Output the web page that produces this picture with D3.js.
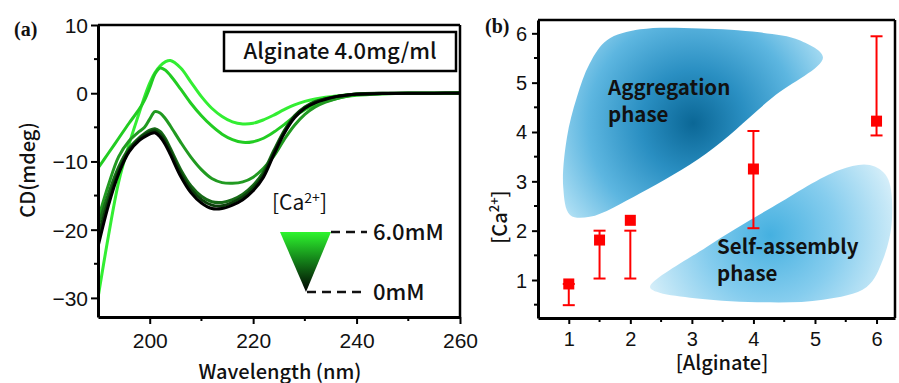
<!DOCTYPE html>
<html><head><meta charset="utf-8">
<script src="https://cdn.jsdelivr.net/npm/d3@7"></script>
<style>body{margin:0;background:#fff}svg{display:block}</style>
</head><body><svg id="c" width="899" height="383"></svg>
<script>
// ---------- Panel (a) data ----------
const wavelength = [190,192,194,196,198,199,200,201,202,203,204,206,208,210,212,214,216,218,220,222,224,226,228,230,232,234,236,238,240,245,250,255,260];
const cd_6mM  = [-30,-21,-13,-7.5,-2.8,-0.5,1.5,3.0,4.0,4.6,4.8,3.7,1.6,-0.5,-2.2,-3.4,-4.2,-4.5,-4.4,-3.9,-3.2,-2.4,-1.7,-1.2,-0.85,-0.6,-0.4,-0.25,-0.15,-0.05,0,0,0.1];
const cd_5mM  = [-11,-8.8,-6.6,-4.4,-2.3,-1.0,0.8,2.8,3.7,3.4,2.6,0.6,-1.5,-3.3,-4.8,-6.0,-6.8,-7.2,-7.1,-6.6,-5.7,-4.6,-3.4,-2.4,-1.7,-1.2,-0.8,-0.5,-0.3,-0.1,0,0,0];
const cd_4mM  = [-18.5,-13.5,-9.3,-7.0,-5.6,-5.0,-3.8,-2.7,-2.9,-3.7,-4.8,-7.2,-9.4,-11.2,-12.5,-13.1,-13.2,-13.0,-12.3,-11.0,-9.2,-6.8,-4.7,-3.1,-2.0,-1.3,-0.8,-0.45,-0.2,-0.05,0,0,0];
const cd_2mM  = [-19.5,-14.8,-10.8,-8.1,-6.5,-5.9,-5.4,-5.2,-5.6,-6.6,-8.1,-11.2,-13.6,-15.1,-15.9,-16.0,-15.6,-14.8,-13.5,-11.5,-8.4,-5.5,-3.3,-2.0,-1.2,-0.8,-0.5,-0.25,-0.1,0,0,0,0];
const cd_1mM  = [-21,-15.8,-11.4,-8.4,-6.7,-6.1,-5.7,-5.5,-6.0,-7.0,-8.5,-11.7,-14.1,-15.6,-16.4,-16.5,-16.0,-15.2,-13.9,-11.9,-8.7,-5.7,-3.4,-2.1,-1.3,-0.8,-0.5,-0.3,-0.1,0,0,0,0];
const cd_0mM  = [-22.5,-16.5,-11.8,-8.6,-6.9,-6.4,-6.0,-5.8,-6.4,-7.5,-9.0,-12.2,-14.6,-16.1,-16.9,-16.9,-16.4,-15.6,-14.3,-12.3,-9.0,-5.9,-3.6,-2.2,-1.4,-0.9,-0.5,-0.3,-0.15,-0.05,0,0,0.05];
const seriesA = [cd_6mM, cd_5mM, cd_4mM, cd_2mM, cd_1mM, cd_0mM];
const seriesColors = ["#33ee33","#22cc22","#219a21","#176a17","#0b3f0b","#000000"];
const xTicksA = [200,220,240,260];
const xMinorA = [210,230,250];
const yTicksA = [-30,-20,-10,0,10];
const yMinorA = [-25,-15,-5,5];

// ---------- Panel (b) data ----------
const alginate = [1,1.5,2,4,6];
const caMean   = [0.92,1.81,2.21,3.25,4.22];
const caLow    = [0.49,1.03,1.03,2.05,3.93];
const caHigh   = [0.92,2.0,2.0,4.02,5.94];
const xTicksB = [1,2,3,4,5,6];
const xMinorB = [1.5,2.5,3.5,4.5,5.5];
const yTicksB = [1,2,3,4,5,6];
const yMinorB = [0.5,1.5,2.5,3.5,4.5,5.5];
// phase region outlines in data units [alginate, Ca]
const aggregationRegion = [[1.62,5.86],[2.16,6.08],[3.13,6.10],[4.10,6.02],[4.75,5.86],[5.13,5.51],[4.31,4.70],[3.24,3.57],[2.16,2.76],[1.34,2.28],[1.02,2.32],[0.91,2.88],[0.97,3.89],[1.13,4.70],[1.34,5.39]];
const selfAssemblyRegion = [[2.32,0.86],[3.24,1.67],[4.31,2.48],[5.40,3.23],[5.89,3.33],[6.17,3.09],[6.25,2.21],[6.10,1.40],[5.84,0.86],[5.13,0.60],[4.06,0.55],[2.97,0.64],[2.43,0.76]];
const aggregationCenter = [3.02,4.18];
const selfAssemblyCenter = [4.27,1.91];

const svg = d3.select("#c");
svg.append("rect").attr("width",899).attr("height",383).attr("fill","#fff");
const defs = svg.append("defs");
const TXT = "#111";
const SANS = "'Liberation Sans', Arial, sans-serif";
const JP = "'Noto Sans CJK JP', 'Noto Sans', sans-serif";

function styleAxis(g, w){
  g.select(".domain").attr("stroke","#000").attr("stroke-width",w);
  g.selectAll(".tick line").attr("stroke","#000").attr("stroke-width",2);
}
function minorTicks(g, scale, vals, orient, pos){
  g.selectAll(null).data(vals).join("line")
    .attr("stroke","#000").attr("stroke-width",2)
    .each(function(d){
      const s=d3.select(this);
      if(orient==="bottom") s.attr("x1",scale(d)).attr("x2",scale(d)).attr("y1",pos).attr("y2",pos+4);
      else s.attr("y1",scale(d)).attr("y2",scale(d)).attr("x1",pos).attr("x2",pos-4);
    });
}

// ================= Panel (a) =================
const xA = d3.scaleLinear([190,260],[98,460]);
const yA = d3.scaleLinear([-32.8,10],[317,25]);
const gA = svg.append("g");
const clipA = defs.append("clipPath").attr("id","clipA");
clipA.append("rect").attr("x",98).attr("y",25).attr("width",362).attr("height",292);

const line = d3.line().x((d,i)=>xA(wavelength[i])).y(d=>yA(d)).curve(d3.curveCatmullRom.alpha(0.5));
gA.append("g").attr("clip-path","url(#clipA)").selectAll("path").data(seriesA).join("path")
  .attr("d",line).attr("fill","none").attr("stroke",(d,i)=>seriesColors[i])
  .attr("stroke-width",3).attr("stroke-linejoin","round");

// frame top/right
gA.append("line").attr("x1",xA(190)).attr("x2",xA(260)).attr("y1",yA(10)).attr("y2",yA(10)).attr("stroke","#000").attr("stroke-width",2.5);
gA.append("line").attr("x1",xA(260)).attr("x2",xA(260)).attr("y1",yA(10)).attr("y2",yA(-32.8)).attr("stroke","#000").attr("stroke-width",2.5);

const axA_b = gA.append("g").attr("transform","translate(0,317)")
  .call(d3.axisBottom(xA).tickValues(xTicksA).tickSize(7).tickSizeOuter(0).tickPadding(9));
styleAxis(axA_b,3);
axA_b.selectAll("text").attr("font-family",SANS).attr("font-size",21).attr("fill",TXT);
minorTicks(gA, xA, xMinorA, "bottom", 317);
const axA_l = gA.append("g").attr("transform","translate(98,0)")
  .call(d3.axisLeft(yA).tickValues(yTicksA).tickSize(7).tickSizeOuter(0).tickPadding(3));
styleAxis(axA_l,3);
axA_l.selectAll("text").attr("font-family",SANS).attr("font-size",21).attr("fill",TXT).attr("dy","0.35em");
minorTicks(gA, yA, yMinorA, "left", 98);

gA.append("text").attr("x",14).attr("y",36).attr("font-family","'Liberation Serif', serif").attr("font-weight","bold").attr("font-size",20).attr("fill",TXT).text("(a)");
gA.append("text").attr("transform","translate(35,170) rotate(-90)").attr("text-anchor","middle")
  .attr("font-family",JP).attr("font-weight",500).attr("font-size",20).attr("fill",TXT).text("CD(mdeg)");
gA.append("text").attr("x",280).attr("y",379).attr("text-anchor","middle")
  .attr("font-family",JP).attr("font-weight",500).attr("font-size",20).attr("fill",TXT).text("Wavelength (nm)");

// legend box
gA.append("rect").attr("x",224).attr("y",32).attr("width",232).attr("height",39).attr("fill","#fff").attr("stroke","#000").attr("stroke-width",2.5);
gA.append("text").attr("x",340).attr("y",59).attr("text-anchor","middle").attr("font-family",JP).attr("font-weight",500).attr("font-size",22).attr("fill",TXT).text("Alginate 4.0mg/ml");

// Ca legend
const lg = defs.append("linearGradient").attr("id","tri").attr("x1",0).attr("y1",0).attr("x2",0).attr("y2",1);
lg.append("stop").attr("offset",0).attr("stop-color","#2ef52e");
lg.append("stop").attr("offset",0.45).attr("stop-color","#15861a");
lg.append("stop").attr("offset",1).attr("stop-color","#000");
const caT = gA.append("text").attr("x",272).attr("y",210).attr("font-family",JP).attr("font-size",21).attr("fill",TXT);
caT.append("tspan").text("[Ca");
caT.append("tspan").attr("font-size",14).attr("dy",-7).text("2+");
caT.append("tspan").attr("dy",7).text("]");
gA.append("path").attr("d","M280,232 L331,232 L306,292 Z").attr("fill","url(#tri)");
gA.append("line").attr("x1",331).attr("x2",367).attr("y1",232).attr("y2",232).attr("stroke","#111").attr("stroke-width",2.5).attr("stroke-dasharray","9,6");
gA.append("line").attr("x1",307).attr("x2",367).attr("y1",292).attr("y2",292).attr("stroke","#111").attr("stroke-width",2.5).attr("stroke-dasharray","9,6");
gA.append("text").attr("x",373).attr("y",240).attr("font-family",JP).attr("font-weight",500).attr("font-size",22).attr("fill",TXT).text("6.0mM");
gA.append("text").attr("x",373).attr("y",300).attr("font-family",JP).attr("font-weight",500).attr("font-size",22).attr("fill",TXT).text("0mM");

// ================= Panel (b) =================
const xB = d3.scaleLinear([0.5,6.3],[538,895]);
const yB = d3.scaleLinear([0.23,6.27],[318,20]);
const gB = svg.append("g");
const clipB = defs.append("clipPath").attr("id","clipB");
clipB.append("rect").attr("x",538).attr("y",20).attr("width",357).attr("height",298);

function radial(id, c, r, stops){
  const g = defs.append("radialGradient").attr("id",id).attr("gradientUnits","userSpaceOnUse")
    .attr("cx",xB(c[0])).attr("cy",yB(c[1])).attr("r",r);
  stops.forEach(s=>g.append("stop").attr("offset",s[0]).attr("stop-color",s[1]));
}
radial("agg", aggregationCenter, 175, [[0,"#0b6796"],[0.3,"#2a8fc2"],[0.6,"#5db6e0"],[0.85,"#a6dbf2"],[1,"#e2f4fb"]]);
radial("self", selfAssemblyCenter, 150, [[0,"#45b0e0"],[0.45,"#86cdee"],[0.8,"#c6e8f7"],[1,"#f0f9fd"]]);

const blob = d3.line().x(d=>xB(d[0])).y(d=>yB(d[1])).curve(d3.curveCatmullRomClosed.alpha(0.5));
const gBl = gB.append("g").attr("clip-path","url(#clipB)");
gBl.append("path").attr("d",blob(aggregationRegion)).attr("fill","url(#agg)");
gBl.append("path").attr("d",blob(selfAssemblyRegion)).attr("fill","url(#self)");

gB.append("text").attr("x",608).attr("y",95).attr("font-family",JP).attr("font-weight","bold").attr("font-size",20.5).attr("fill",TXT).text("Aggregation");
gB.append("text").attr("x",608).attr("y",122).attr("font-family",JP).attr("font-weight","bold").attr("font-size",20.5).attr("fill",TXT).text("phase");
gB.append("text").attr("x",717).attr("y",254).attr("font-family",JP).attr("font-weight","bold").attr("font-size",20.5).attr("fill",TXT).text("Self-assembly");
gB.append("text").attr("x",717).attr("y",281).attr("font-family",JP).attr("font-weight","bold").attr("font-size",20.5).attr("fill",TXT).text("phase");

// error bars
const red = "#f00";
const eb = gB.append("g");
eb.selectAll("line.v").data(alginate).join("line").attr("class","v")
  .attr("x1",d=>xB(d)).attr("x2",d=>xB(d)).attr("y1",(d,i)=>yB(caLow[i])).attr("y2",(d,i)=>yB(caHigh[i]))
  .attr("stroke",red).attr("stroke-width",2);
eb.selectAll("line.lo").data(alginate).join("line").attr("class","lo")
  .attr("x1",d=>xB(d)-6).attr("x2",d=>xB(d)+6).attr("y1",(d,i)=>yB(caLow[i])).attr("y2",(d,i)=>yB(caLow[i]))
  .attr("stroke",red).attr("stroke-width",2);
eb.selectAll("line.hi").data(alginate).join("line").attr("class","hi")
  .attr("x1",d=>xB(d)-6).attr("x2",d=>xB(d)+6).attr("y1",(d,i)=>yB(caHigh[i])).attr("y2",(d,i)=>yB(caHigh[i]))
  .attr("stroke",red).attr("stroke-width",2);
eb.selectAll("rect").data(alginate).join("rect")
  .attr("x",d=>xB(d)-5.5).attr("y",(d,i)=>yB(caMean[i])-5.5).attr("width",11).attr("height",11).attr("fill",red);

// frame
gB.append("line").attr("x1",538).attr("x2",895).attr("y1",20).attr("y2",20).attr("stroke","#000").attr("stroke-width",2.5);
gB.append("line").attr("x1",895).attr("x2",895).attr("y1",20).attr("y2",318).attr("stroke","#000").attr("stroke-width",2.5);

const axB_b = gB.append("g").attr("transform","translate(0,318)")
  .call(d3.axisBottom(xB).tickValues(xTicksB).tickFormat(d3.format("d")).tickSize(6).tickSizeOuter(0).tickPadding(8));
styleAxis(axB_b,3);
axB_b.selectAll("text").attr("font-family",SANS).attr("font-size",20).attr("fill",TXT);
minorTicks(gB, xB, xMinorB, "bottom", 318);
const axB_l = gB.append("g").attr("transform","translate(538,0)")
  .call(d3.axisLeft(yB).tickValues(yTicksB).tickFormat(d3.format("d")).tickSize(6).tickSizeOuter(0).tickPadding(5));
styleAxis(axB_l,3);
axB_l.selectAll("text").attr("font-family",SANS).attr("font-size",20).attr("fill",TXT).attr("dy","0.35em");
minorTicks(gB, yB, yMinorB, "left", 538);

gB.append("text").attr("x",485).attr("y",33).attr("font-family","'Liberation Serif', serif").attr("font-weight","bold").attr("font-size",20).attr("fill",TXT).text("(b)");
gB.append("text").attr("x",722).attr("y",370).attr("text-anchor","middle").attr("font-family",JP).attr("font-weight",500).attr("font-size",20).attr("fill",TXT).text("[Alginate]");
const cbl = gB.append("text").attr("transform","translate(507,217) rotate(-90)").attr("text-anchor","middle").attr("font-family",JP).attr("font-weight",500).attr("font-size",20).attr("fill",TXT);
cbl.append("tspan").text("[Ca");
cbl.append("tspan").attr("font-size",13).attr("dy",-8).text("2+");
cbl.append("tspan").attr("dy",8).text("]");
</script></body></html>
